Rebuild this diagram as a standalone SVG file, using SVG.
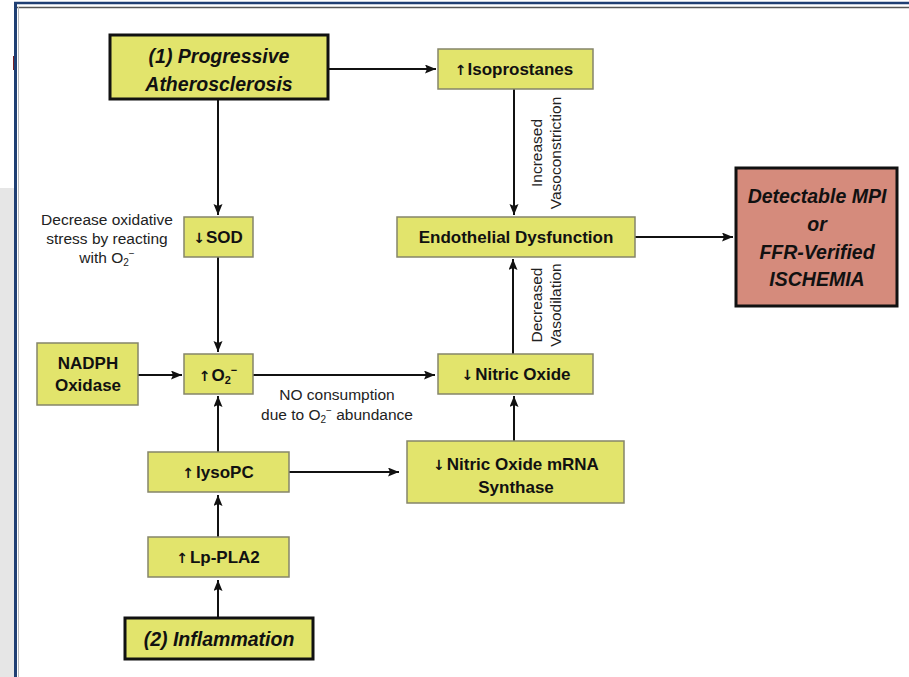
<svg xmlns="http://www.w3.org/2000/svg" width="909" height="677" viewBox="0 0 909 677">
<style>
.y{fill:#e2e46c;stroke:#85856a;stroke-width:1.5}
.yt{fill:#e2e46c;stroke:#111;stroke-width:3}
.r{fill:#d58b7c;stroke:#111;stroke-width:3}
.b{font-family:"Liberation Sans",Arial,sans-serif;font-weight:bold;font-size:17px;fill:#111;text-anchor:middle}
.bi{font-family:"Liberation Sans",Arial,sans-serif;font-weight:bold;font-style:italic;font-size:19.5px;fill:#111;text-anchor:middle}
.n{font-family:"Liberation Sans",Arial,sans-serif;font-size:15.5px;fill:#222;text-anchor:middle}
.ar{font-family:"DejaVu Sans",sans-serif;font-weight:bold;font-size:14px}
.c line{stroke:#111;stroke-width:2;marker-end:url(#ah)}
</style>
<defs>
<marker id="ah" markerUnits="userSpaceOnUse" markerWidth="12" markerHeight="10" refX="11" refY="4.5" orient="auto">
<path d="M0,0 L11,4.5 L0,9 L2,4.5 z" fill="#111"/>
</marker>
</defs>
<rect width="909" height="677" fill="#fff"/>
<rect x="0" y="188" width="14" height="489" fill="#e6e6e6"/>
<rect x="13" y="56" width="2" height="14" fill="#7a2020"/>
<line x1="14" y1="3" x2="909" y2="3" stroke="#1f3f73" stroke-width="2.5"/>
<line x1="17" y1="7.5" x2="909" y2="7.5" stroke="#555" stroke-width="1.5"/>
<line x1="15.5" y1="2" x2="15.5" y2="677" stroke="#1f3f73" stroke-width="3"/>
<line x1="18.5" y1="7" x2="18.5" y2="677" stroke="#bbb" stroke-width="1"/>

<g class="c" id="connectors">
<line x1="328" y1="69" x2="436" y2="69"/>
<line x1="514" y1="89" x2="514" y2="215"/>
<line x1="218" y1="99" x2="218" y2="215"/>
<line x1="218" y1="257" x2="218" y2="352"/>
<line x1="138" y1="375" x2="182" y2="375"/>
<line x1="253" y1="375" x2="435" y2="375"/>
<line x1="218" y1="452" x2="218" y2="396"/>
<line x1="289" y1="472" x2="399" y2="472"/>
<line x1="514" y1="441" x2="514" y2="396"/>
<line x1="513" y1="354" x2="513" y2="259"/>
<line x1="635" y1="237" x2="733" y2="237"/>
<line x1="218" y1="537" x2="218" y2="495"/>
<line x1="218" y1="618" x2="218" y2="580"/>
</g>

<g id="lbl-vasoconstriction">
<text class="n" transform="translate(542,153) rotate(-90)">Increased</text>
<text class="n" transform="translate(561,153) rotate(-90)">Vasoconstriction</text>
</g>
<g id="lbl-vasodilation">
<text class="n" transform="translate(542,305) rotate(-90)">Decreased</text>
<text class="n" transform="translate(561,305) rotate(-90)">Vasodilation</text>
</g>
<g id="lbl-sod">
<text class="n" x="107" y="224.5">Decrease oxidative</text>
<text class="n" x="107" y="243.5">stress by reacting</text>
<text class="n" x="107" y="262.5">with O<tspan font-size="10" dy="3">2</tspan><tspan font-size="10" dy="-9">−</tspan></text>
</g>
<g id="lbl-no">
<text class="n" x="337" y="400">NO consumption</text>
<text class="n" x="337" y="420">due to O<tspan font-size="10" dy="3">2</tspan><tspan font-size="10" dy="-9">−</tspan><tspan dy="6"> abundance</tspan></text>
</g>

<g id="athero">
<rect class="yt" x="110" y="35" width="218" height="64"/>
<text class="bi" x="219" y="63">(1) Progressive</text>
<text class="bi" x="219" y="91">Atherosclerosis</text>
</g>
<g id="isoprostanes">
<rect class="y" x="438" y="49" width="155" height="40"/>
<text class="b" x="514" y="75"><tspan class="ar">↑</tspan><tspan dx="1">Isoprostanes</tspan></text>
</g>
<g id="endothelial">
<rect class="y" x="397" y="217" width="238" height="40"/>
<text class="b" x="516" y="243">Endothelial Dysfunction</text>
</g>
<g id="ischemia">
<rect class="r" x="736" y="168" width="161" height="138"/>
<text class="bi" x="817" y="203">Detectable MPI</text>
<text class="bi" x="817" y="231">or</text>
<text class="bi" x="817" y="259">FFR-Verified</text>
<text class="bi" x="817" y="286">ISCHEMIA</text>
</g>
<g id="sod">
<rect class="y" x="184" y="217" width="69" height="40"/>
<text class="b" x="218" y="243"><tspan class="ar">↓</tspan><tspan dx="1">SOD</tspan></text>
</g>
<g id="o2">
<rect class="y" x="184" y="354" width="69" height="40"/>
<text class="b" x="218" y="381"><tspan class="ar">↑</tspan><tspan dx="1">O</tspan><tspan font-size="11" dy="3">2</tspan><tspan font-size="11" dy="-10">−</tspan></text>
</g>
<g id="nadph">
<rect class="y" x="37" y="343" width="101" height="62"/>
<text class="b" x="88" y="369">NADPH</text>
<text class="b" x="88" y="391">Oxidase</text>
</g>
<g id="nitric-oxide">
<rect class="y" x="438" y="354" width="155" height="40"/>
<text class="b" x="516" y="380"><tspan class="ar">↓</tspan><tspan dx="2">Nitric Oxide</tspan></text>
</g>
<g id="no-mrna">
<rect class="y" x="407" y="441" width="217" height="62"/>
<text class="b" x="516" y="470"><tspan class="ar">↓</tspan><tspan dx="2">Nitric Oxide mRNA</tspan></text>
<text class="b" x="516" y="493">Synthase</text>
</g>
<g id="lysopc">
<rect class="y" x="148" y="452" width="141" height="40"/>
<text class="b" x="218" y="478"><tspan class="ar">↑</tspan><tspan dx="2">lysoPC</tspan></text>
</g>
<g id="lppla2">
<rect class="y" x="148" y="537" width="141" height="40"/>
<text class="b" x="218" y="563"><tspan class="ar">↑</tspan><tspan dx="2">Lp-PLA2</tspan></text>
</g>
<g id="inflammation">
<rect class="yt" x="125" y="618" width="188" height="41"/>
<text class="bi" x="219" y="646">(2) Inflammation</text>
</g>
</svg>
